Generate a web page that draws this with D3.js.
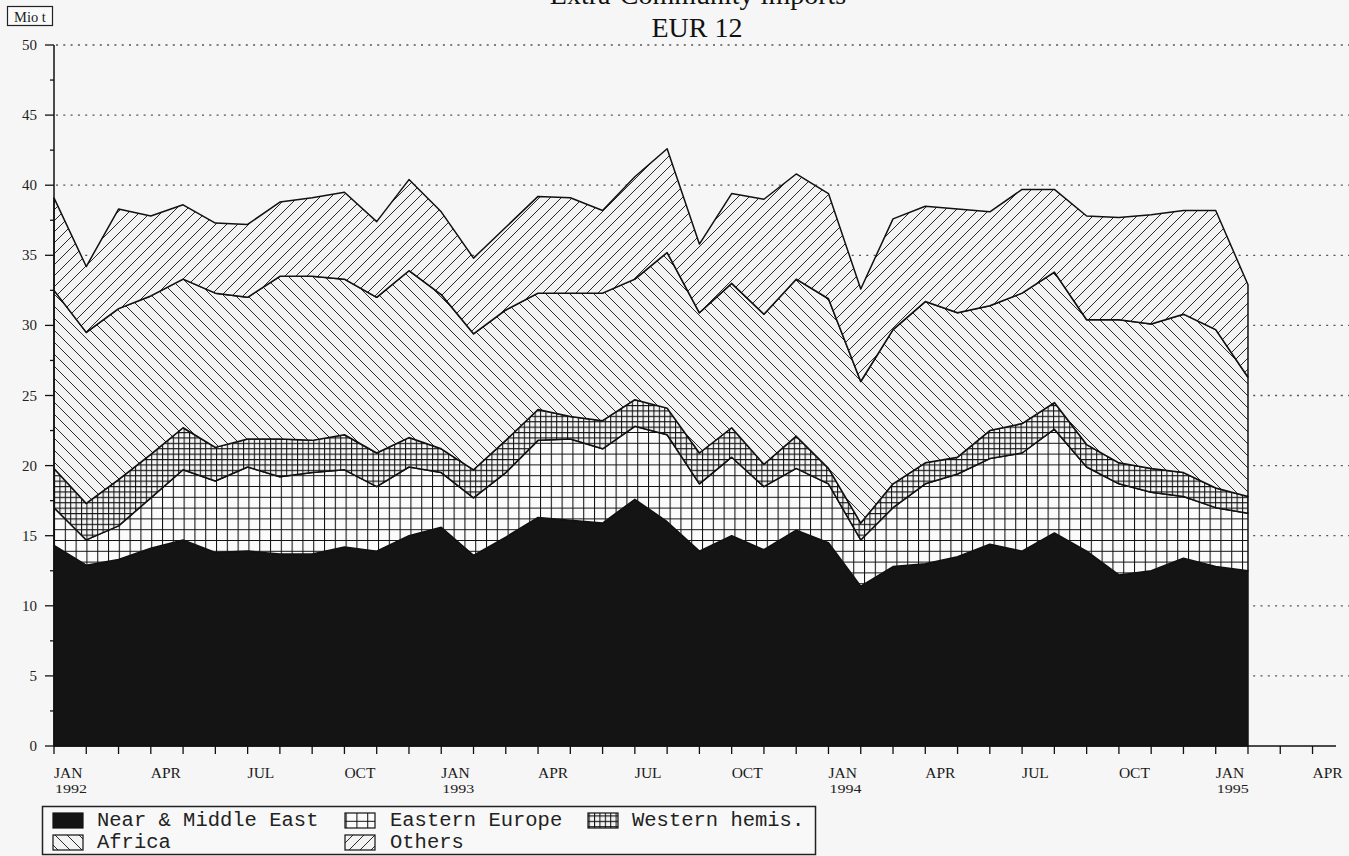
<!DOCTYPE html>
<html>
<head>
<meta charset="utf-8">
<script src="https://cdn.jsdelivr.net/npm/d3@7"></script>
<style>
  body { margin: 0; background: #f6f6f6; }
  svg { display: block; }
</style>
</head>
<body>
<svg id="chart" width="1349" height="856"></svg>
<script>
// monthly values, Mio t, Jan 1992 .. Feb 1995
const nearMiddleEast = [14.3,12.9,13.3,14.1,14.7,13.8,13.9,13.7,13.7,14.2,13.9,15.0,15.6,13.6,14.9,16.3,16.1,15.9,17.6,16.0,13.9,15.0,14.0,15.4,14.5,11.4,12.8,13.0,13.5,14.4,13.9,15.2,13.9,12.2,12.5,13.4,12.8,12.5];
const easternEurope  = [2.7,1.8,2.4,3.6,5.0,5.1,6.0,5.5,5.8,5.5,4.6,4.9,3.9,4.1,4.6,5.5,5.8,5.3,5.2,6.2,4.8,5.6,4.5,4.4,4.2,3.3,4.2,5.7,5.9,6.1,7.0,7.4,6.0,6.5,5.6,4.4,4.2,4.1];
const westernHemis   = [2.8,2.6,3.3,3.1,3.0,2.4,2.0,2.7,2.3,2.5,2.4,2.1,1.7,2.0,2.3,2.2,1.6,2.0,1.9,1.9,2.2,2.1,1.6,2.3,1.1,1.2,1.7,1.5,1.2,2.0,2.1,1.9,1.6,1.5,1.7,1.7,1.4,1.2];
const africa         = [12.7,12.2,12.2,11.3,10.6,11.0,10.1,11.6,11.7,11.1,11.1,11.9,11.0,9.7,9.3,8.3,8.8,9.1,8.6,11.1,10.0,10.3,10.7,11.2,12.1,10.1,11.0,11.5,10.3,8.9,9.3,9.3,8.9,10.2,10.3,11.3,11.3,8.5];
const others         = [6.6,4.7,7.1,5.7,5.3,5.0,5.2,5.3,5.6,6.2,5.4,6.5,5.9,5.4,5.9,6.9,6.8,5.9,7.3,7.4,4.9,6.4,8.2,7.5,7.5,6.6,7.9,6.8,7.4,6.7,7.4,5.9,7.4,7.3,7.8,7.4,8.5,6.6];

const seriesNames = ["Near & Middle East", "Eastern Europe", "Western hemis.", "Africa", "Others"];
const monthNames = ["JAN","FEB","MAR","APR","MAY","JUN","JUL","AUG","SEP","OCT","NOV","DEC"];
const yTicks = [0,5,10,15,20,25,30,35,40,45,50];

const svg = d3.select("#chart");
const width = 1349;

const x = d3.scaleLinear().domain([0, 39]).range([54, 54 + 39 * 32.27]);
const y = d3.scaleLinear().domain([0, 50]).range([746, 45]);

//patterns
const defs = svg.append("defs");

function gridPattern(id, size, bg) {
  const p = defs.append("pattern").attr("id", id)
    .attr("patternUnits", "userSpaceOnUse")
    .attr("width", size).attr("height", size);
  p.append("rect").attr("width", size).attr("height", size).attr("fill", bg);
  p.append("path").attr("d", `M0,0.5H${size}M0.5,0V${size}`)
    .attr("stroke", "#111").attr("stroke-width", 1.1).attr("fill", "none");
}
function diagPattern(id, size, dir) {
  const p = defs.append("pattern").attr("id", id)
    .attr("patternUnits", "userSpaceOnUse")
    .attr("width", size).attr("height", size);
  p.append("rect").attr("width", size).attr("height", size).attr("fill", "#f3f3f3");
  const d = dir === "back"
    ? `M0,0L${size},${size}M${-size},0L${size},${2 * size}M0,${-size}L${2 * size},${size}`
    : `M0,${size}L${size},0M${-size},${size}L${size},${-size}M0,${2 * size}L${2 * size},0`;
  p.append("path").attr("d", d).attr("stroke", "#2a2a2a").attr("stroke-width", 1).attr("fill", "none");
}
gridPattern("pat-ee", 10.8, "#fbfbfb");
gridPattern("pat-wh", 5.4, "#f4f4f4");
diagPattern("pat-af", 12, "back");
diagPattern("pat-ot", 11, "fwd");

const fills = ["#141414", "url(#pat-ee)", "url(#pat-wh)", "url(#pat-af)", "url(#pat-ot)"];

//title (top line is cut by the page edge, as in the source)
svg.append("text").attr("x", 698).attr("y", 4).attr("text-anchor", "middle")
  .attr("font-family", "Liberation Serif").attr("font-size", 28).attr("fill", "#111")
  .text("Extra-Community imports");
svg.append("text").attr("x", 697).attr("y", 37).attr("text-anchor", "middle")
  .attr("font-family", "Liberation Serif").attr("font-size", 28).attr("fill", "#111")
  .text("EUR 12");

//unit box
svg.append("rect").attr("x", 7.5).attr("y", 6.5).attr("width", 45).attr("height", 19)
  .attr("fill", "#fafafa").attr("stroke", "#222").attr("stroke-width", 1.2);
svg.append("text").attr("x", 30).attr("y", 21.5).attr("text-anchor", "middle")
  .attr("font-family", "Liberation Serif").attr("font-size", 14.5).attr("fill", "#222")
  .text("Mio t");

//grid
svg.append("g").selectAll("line").data(yTicks.filter(d => d > 0)).join("line")
  .attr("x1", 56).attr("x2", width)
  .attr("y1", d => y(d)).attr("y2", d => y(d))
  .attr("stroke", "#555").attr("stroke-width", 1.3).attr("stroke-dasharray", "2,5.3");

//stack
const table = nearMiddleEast.map((v, i) => ({
  i: i, s0: v, s1: easternEurope[i], s2: westernHemis[i], s3: africa[i], s4: others[i]
}));
const stack = d3.stack().keys(["s0", "s1", "s2", "s3", "s4"]);
const layers = stack(table);

const area = d3.area()
  .x(d => x(d.data.i))
  .y0(d => y(d[0]))
  .y1(d => y(d[1]));

svg.append("g").selectAll("path").data(layers).join("path")
  .attr("d", area)
  .attr("fill", (d, k) => fills[k])
  .attr("stroke", "#111").attr("stroke-width", 1.5).attr("stroke-linejoin", "round");

//y axis
const yAxis = svg.append("g");
yAxis.append("line").attr("x1", 54).attr("x2", 54).attr("y1", y(50)).attr("y2", y(0))
  .attr("stroke", "#111").attr("stroke-width", 1.5);
yAxis.selectAll("line.major").data(yTicks).join("line").attr("class", "major")
  .attr("x1", 45).attr("x2", 54).attr("y1", d => y(d)).attr("y2", d => y(d))
  .attr("stroke", "#111").attr("stroke-width", 1.3);
yAxis.selectAll("line.minor").data(yTicks.slice(0, -1).map(d => d + 2.5)).join("line").attr("class", "minor")
  .attr("x1", 50).attr("x2", 54).attr("y1", d => y(d)).attr("y2", d => y(d))
  .attr("stroke", "#111").attr("stroke-width", 1.3);
yAxis.selectAll("text").data(yTicks).join("text")
  .attr("x", 37).attr("y", d => y(d) + 5).attr("text-anchor", "end")
  .attr("font-family", "Liberation Serif").attr("font-size", 15).attr("fill", "#222")
  .text(d => d);

//x axis
const xAxis = svg.append("g");
xAxis.append("line").attr("x1", 54).attr("x2", 1336).attr("y1", 746).attr("y2", 746)
  .attr("stroke", "#111").attr("stroke-width", 1.5);
xAxis.selectAll("line.tick").data(d3.range(0, 40)).join("line").attr("class", "tick")
  .attr("x1", d => x(d)).attr("x2", d => x(d)).attr("y1", 746).attr("y2", 754)
  .attr("stroke", "#111").attr("stroke-width", 1.3);
xAxis.selectAll("text.month").data(d3.range(0, 40, 3)).join("text").attr("class", "month")
  .attr("x", d => x(d)).attr("y", 778)
  .attr("font-family", "Liberation Serif").attr("font-size", 15.5).attr("fill", "#1a1a1a")
  .text(d => monthNames[d % 12]);
xAxis.selectAll("text.year").data(d3.range(0, 40, 12)).join("text").attr("class", "year")
  .attr("x", d => x(d) + 1).attr("y", 793)
  .attr("font-family", "Liberation Serif").attr("font-size", 13.5).attr("fill", "#222")
  .attr("textLength", 32).attr("lengthAdjust", "spacingAndGlyphs")
  .text(d => 1992 + d / 12);

//legend
const legend = svg.append("g");
legend.append("rect").attr("x", 42.5).attr("y", 806.5).attr("width", 773).attr("height", 48)
  .attr("fill", "#f8f8f8").attr("stroke", "#222").attr("stroke-width", 1.5);
const legendPos = [
  { sx: 53, tx: 97, row: 0 },
  { sx: 345, tx: 390, row: 0 },
  { sx: 588, tx: 632, row: 0 },
  { sx: 53, tx: 97, row: 1 },
  { sx: 345, tx: 390, row: 1 }
];
seriesNames.forEach((name, k) => {
  const p = legendPos[k];
  const top = 813 + p.row * 22;
  legend.append("rect").attr("x", p.sx).attr("y", top).attr("width", 30).attr("height", 15)
    .attr("fill", fills[k]).attr("stroke", "#111").attr("stroke-width", 1.2);
  legend.append("text").attr("x", p.tx).attr("y", top + 13)
    .attr("font-family", "Liberation Mono").attr("font-size", 20.5).attr("fill", "#222")
    .text(name);
});
</script>
</body>
</html>
